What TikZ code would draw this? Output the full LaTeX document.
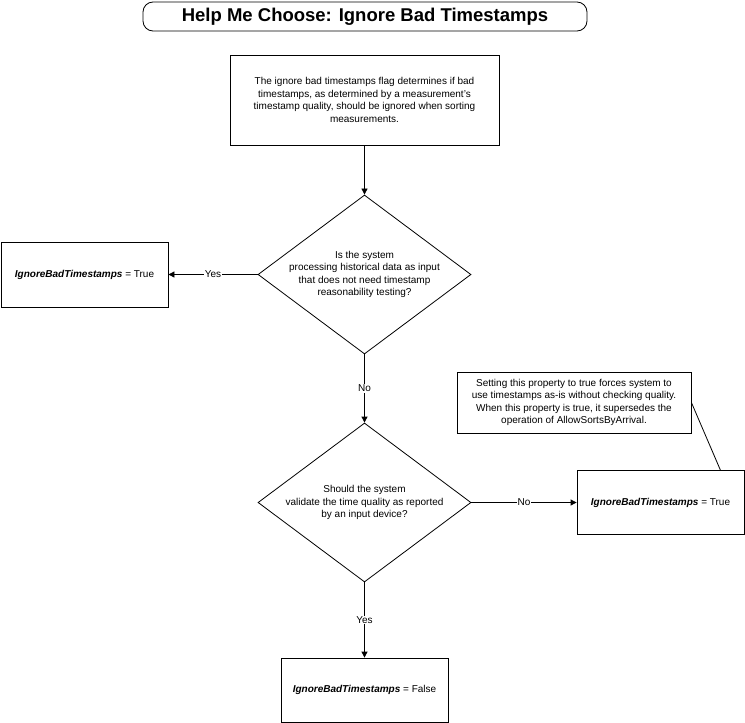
\documentclass[tikz,border=0pt]{standalone}
\usepackage{fontspec}
\setmainfont{Liberation Sans}
\usetikzlibrary{shapes.geometric,arrows.meta,calc}
\begin{document}
\begin{tikzpicture}[
  x=1pt, y=-1pt, line width=0.8pt,
  font=\fontsize{10}{12.5}\selectfont,
  bx/.style={draw, rectangle, inner sep=2pt, align=center},
  dia/.style={draw, diamond, minimum width=213pt, minimum height=159pt, inner sep=-15pt, align=center},
  lbl/.style={fill=white, inner sep=1pt},
  arr/.style={-{Triangle[length=6pt,width=6pt]}}
]
\useasboundingbox (0,0) rectangle (745,723);
% ---------------- title ----------------
\node[draw, rounded corners=10pt, minimum width=444pt, minimum height=29pt,
      font=\fontsize{18.5}{22}\selectfont\bfseries] (ttl) at (365,16.5)
      {Help Me Choose: Ignore Bad Timestamps};
% ---------------- intro and first question ----------------
\node[bx, minimum width=269pt, minimum height=90pt] (intro) at (364.5,100)
  {The ignore bad timestamps flag determines if bad\\
   timestamps, as determined by a measurement's\\
   timestamp quality, should be ignored when sorting\\
   measurements.};
\node[dia] (q1) at (364.5,274.5)
  {Is the system\\ processing historical data as input\\
   that does not need timestamp\\ reasonability testing?};
\node[bx, minimum width=167pt, minimum height=65pt] (ltrue) at (84.5,274.5)
  {\textbf{\textit{IgnoreBadTimestamps}} = True};
% ---------------- second question ----------------
\node[dia] (q2) at (364.5,502.5)
  {Should the system\\ validate the time quality as reported\\ by an input device?};
\node[bx, minimum width=167pt, minimum height=64pt] (rtrue) at (660.5,502.5)
  {\textbf{\textit{IgnoreBadTimestamps}} = True};
\node[bx, minimum width=167pt, minimum height=64pt] (bfalse) at (364.5,690)
  {\textbf{\textit{IgnoreBadTimestamps}} = False};
\node[bx, minimum width=234pt, minimum height=61pt] (note) at (574,402.5)
  {Setting this property to true forces system to\\
   use timestamps as-is without checking quality.\\
   When this property is true, it supersedes the\\
   operation of AllowSortsByArrival.};
\coordinate (tap) at ([xshift=-24pt]rtrue.north east);
% ---------------- connectors ----------------
\draw[arr] (intro) -- (q1);
\draw[arr] (q1.west) -- node[lbl] {Yes} (ltrue.east);
\draw[arr] (q1.south) -- node[lbl] {No} (q2.north);
\draw[arr] (q2.east) -- node[lbl] {No} (rtrue.west);
\draw[arr] (q2.south) -- node[lbl] {Yes} (bfalse.north);
\draw (note.east) -- (tap);
\end{tikzpicture}
\end{document}
